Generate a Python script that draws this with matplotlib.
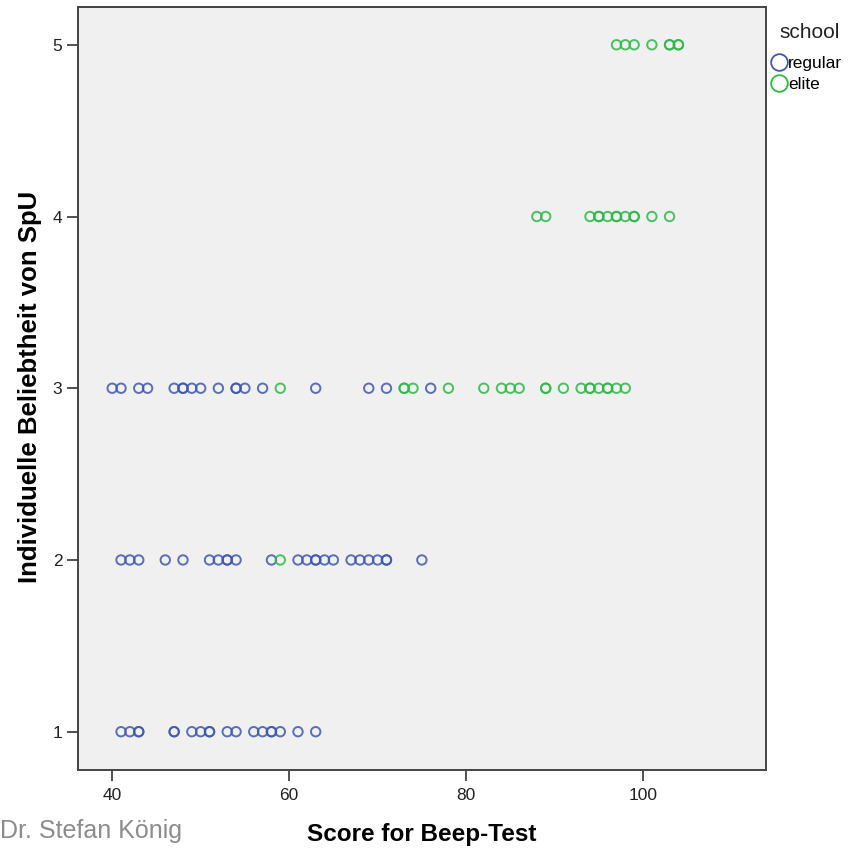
import matplotlib
matplotlib.use("Agg")
import matplotlib.pyplot as plt
from matplotlib.lines import Line2D

# ---- data ----
regular_y1 = [41, 42, 43, 43, 47, 47, 49, 50, 51, 51, 53, 54, 56, 57, 58, 58, 59, 61, 63]
regular_y2 = [41, 42, 43, 46, 48, 51, 52, 53, 53, 54, 58, 61, 62, 63, 63, 64, 65, 67, 68, 69, 70, 71, 71, 75]
regular_y3 = [40, 41, 43, 44, 47, 48, 48, 49, 50, 52, 54, 54, 55, 57, 63, 69, 71, 76]
elite_y2 = [59]
elite_y3 = [59, 73, 73, 74, 78, 82, 84, 85, 86, 89, 89, 91, 93, 94, 94, 95, 96, 96, 97, 98]
elite_y4 = [88, 89, 94, 95, 95, 96, 97, 97, 98, 99, 99, 101, 103]
elite_y5 = [97, 98, 99, 101, 103, 103, 104, 104]

x_ticks = [40, 60, 80, 100]
y_ticks = [1, 2, 3, 4, 5]
groups = ["regular", "elite"]
x_label = "Score for Beep-Test"
y_label = "Individuelle Beliebtheit von SpU"
legend_title = "school"
credit = "Dr. Stefan König"

BLUE = "#3e58ac"
GREEN = "#2eb848"
FONT = ["Liberation Sans", "DejaVu Sans"]
plt.rcParams["font.family"] = FONT

W, H = 859, 849
fig = plt.figure(figsize=(W / 100, H / 100), dpi=100)
ax = fig.add_axes([77.7 / W, 1 - 770 / H, (766 - 77.7) / W, (770 - 7) / H])
ax.set_facecolor("#f0f0f0")

def pts(xs, yv):
    return xs, [yv] * len(xs)

mk = dict(s=46, facecolors="none", linewidths=1.4, zorder=3)
for xs, yv in [(regular_y1, 1), (regular_y2, 2), (regular_y3, 3)]:
    ax.scatter(*pts(xs, yv), edgecolors=BLUE, alpha=0.85, **mk)
for xs, yv in [(elite_y2, 2), (elite_y3, 3), (elite_y4, 4), (elite_y5, 5)]:
    ax.scatter(*pts(xs, yv), edgecolors=GREEN, alpha=0.85, **mk)

ax.set_xlim(36.1, 113.9)
ax.set_ylim(0.777, 5.22)
ax.set_xticks(x_ticks)
ax.set_yticks(y_ticks)
ax.tick_params(axis="both", direction="out", length=8, width=1.2, color="#333333",
               labelsize=12.5, labelcolor="#222222")
ax.tick_params(axis="x", pad=5)
ax.tick_params(axis="y", pad=3)
for sp in ax.spines.values():
    sp.set_color("#444444")
    sp.set_linewidth(1.4)

fig.text(422 / W, 1 - 834 / H, x_label, ha="center", va="center",
         fontsize=17.5, fontweight="bold", family=FONT)
fig.text(30 / W, 1 - 387 / H, y_label, ha="center", va="center", rotation=90,
         fontsize=18.5, fontweight="bold", family=FONT)
fig.text(0.5 / W, 1 - 831 / H, credit, ha="left", va="center",
         fontsize=18, color="#8c8c8c", family=FONT)

# legend
fig.text(810 / W, 1 - 32 / H, legend_title, ha="center", va="center", fontsize=15, color="#222222")
handles = [Line2D([], [], ls="none", marker="o", markersize=12, markerfacecolor="none",
                  markeredgecolor=c, markeredgewidth=1.3) for c in (BLUE, GREEN)]
fig.legend(handles, groups, loc="upper left", bbox_to_anchor=(771 / W, 1 - 56 / H),
           frameon=False, fontsize=12.5, handlelength=0.9, handletextpad=0.1,
           labelspacing=0.35, borderpad=0, borderaxespad=0)

fig.savefig("out.png", dpi=100, facecolor="white")
